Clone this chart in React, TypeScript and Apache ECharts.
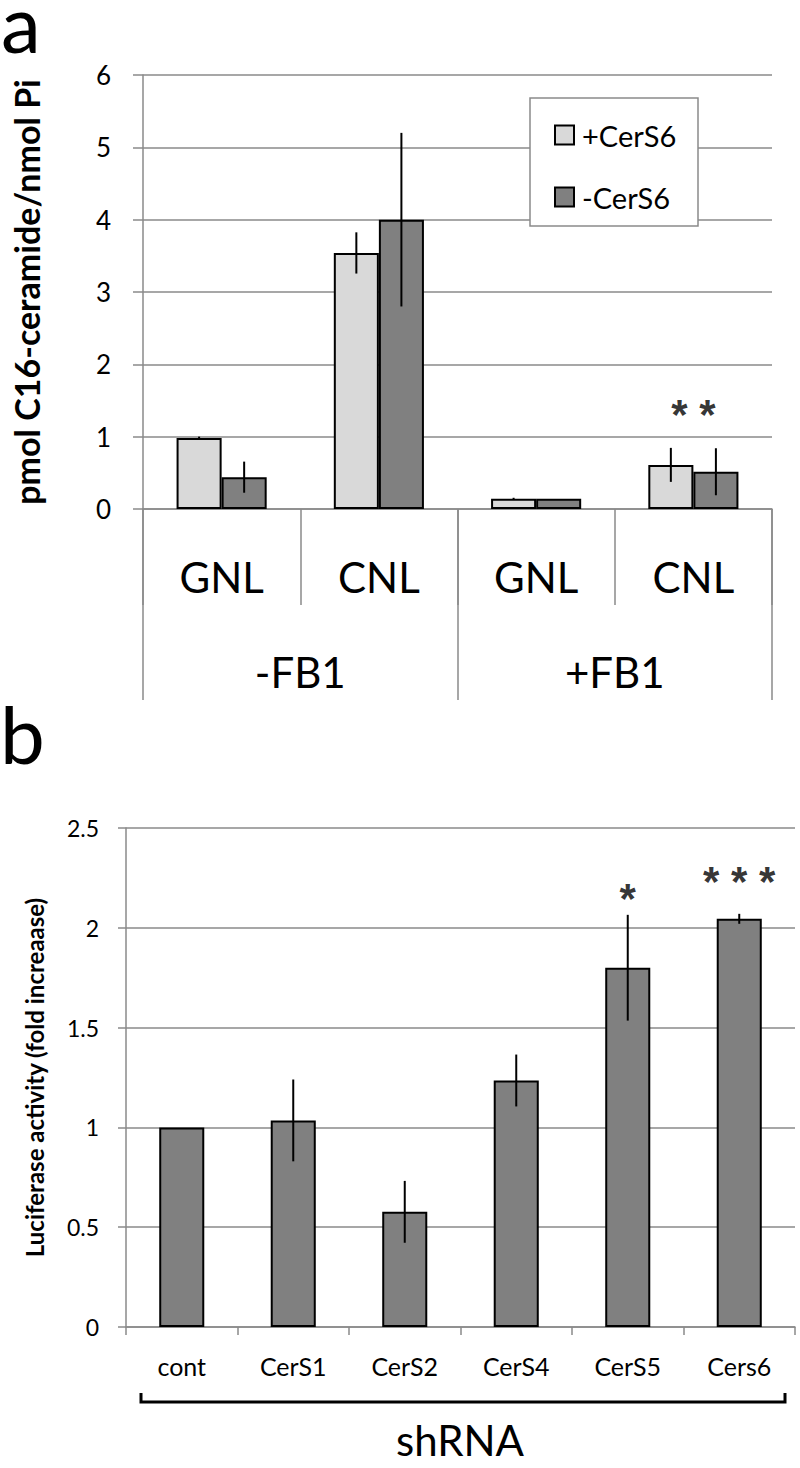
import React, { useEffect, useRef } from "react";
import * as echarts from "echarts";

// Panel a data
const catsA = ["GNL", "CNL", "GNL", "CNL"];
const groupsA = ["-FB1", "+FB1"];
const plusCerS6 = [0.98, 3.54, 0.14, 0.61];
const plusCerS6Err = [0.02, 0.285, 0.015, 0.235];
const minusCerS6 = [0.44, 4.0, 0.14, 0.515];
const minusCerS6Err = [0.215, 1.2, 0.0, 0.325];
const yTicksA = { min: 0, max: 6, interval: 1 };
const starsA = [{ cat: 3, value: 1.41, text: "* *" }];

// Panel b data
const catsB = ["cont", "CerS1", "CerS2", "CerS4", "CerS5", "Cers6"];
const lucValues = [1.0, 1.035, 0.577, 1.235, 1.8, 2.045];
const lucErr = [0, 0.205, 0.155, 0.13, 0.265, 0.025];
const yTicksB = { min: 0, max: 2.5, interval: 0.5 };
const starsB = [
  { cat: 4, value: 2.18, text: "*" },
  { cat: 5, value: 2.265, text: "* * *" },
];

const FONT = "Lato";
const GRID = "#8a8a8a";
const LIGHT = "#d9d9d9";
const DARK = "#808080";
const GAP_A = 0.427;
const GAP_B = 0.596;

export default function App() {
  const ref = useRef<HTMLDivElement>(null);
  useEffect(() => {
    document.body.style.margin = "0";
    const chart = echarts.init(ref.current!, null, { renderer: "svg" });

    const errA: any[] = [];
    plusCerS6.forEach((v, i) => errA.push([i, v, plusCerS6Err[i], 0]));
    minusCerS6.forEach((v, i) => errA.push([i, v, minusCerS6Err[i], 1]));
    const errB = lucValues.map((v, i) => [i, v, lucErr[i]]);

    const renderErrA = (params: any, api: any) => {
      const cat = api.value(0), m = api.value(1), e = api.value(2), s = api.value(3);
      if (!e) return null;
      const bandW = api.size([1, 0])[0];
      const barW = (bandW * (1 - GAP_A)) / 2;
      const x = api.coord([cat, m])[0] + (s === 0 ? -barW / 2 : barW / 2);
      const y1 = api.coord([cat, m + e])[1];
      const y2 = api.coord([cat, m - e])[1];
      return {
        type: "line",
        shape: { x1: x, y1, x2: x, y2 },
        style: { stroke: "#000", lineWidth: 2 },
      };
    };
    const renderErrB = (params: any, api: any) => {
      const cat = api.value(0), m = api.value(1), e = api.value(2);
      if (!e) return null;
      const x = api.coord([cat, m])[0];
      const y1 = api.coord([cat, m + e])[1];
      const y2 = api.coord([cat, m - e])[1];
      return {
        type: "line",
        shape: { x1: x, y1, x2: x, y2 },
        style: { stroke: "#000", lineWidth: 2 },
      };
    };

    const starLabel = {
      show: true,
      position: "inside",
      color: "#000",
      fontSize: 42,
      fontWeight: "bold",
      fontFamily: "Liberation Sans",
      offset: [0, 7],
    };

    chart.setOption({
      animation: false,
      backgroundColor: "#fff",
      textStyle: { fontFamily: FONT },
      grid: [
        { left: 143, top: 75, width: 629, height: 434 },
        { left: 126, top: 828, width: 669, height: 499 },
      ],
      legend: {
        data: ["+CerS6", "-CerS6"],
        orient: "vertical",
        left: 554,
        top: 120,
        padding: 0,
        itemWidth: 19,
        itemHeight: 19,
        itemGap: 32,
        icon: "rect",
        z: 10,
        textStyle: { fontSize: 29, fontFamily: FONT, color: "#000", lineHeight: 30, padding: [0, 0, 0, 3] },
      },
      xAxis: [
        {
          type: "category",
          gridIndex: 0,
          data: catsA,
          axisLine: { lineStyle: { color: GRID, width: 1.5 } },
          axisTick: { show: true, length: 96, lineStyle: { color: GRID, width: 1.5 } },
          axisLabel: { color: "#000", fontSize: 42, lineHeight: 42, margin: 47, fontFamily: FONT },
        },
        {
          type: "category",
          gridIndex: 0,
          position: "bottom",
          data: groupsA,
          axisLine: { show: false },
          axisTick: { show: true, length: 191, lineStyle: { color: GRID, width: 1.5 } },
          axisLabel: { color: "#000", fontSize: 42, lineHeight: 42, margin: 142, fontFamily: FONT },
        },
        {
          type: "category",
          gridIndex: 1,
          data: catsB,
          axisLine: { lineStyle: { color: GRID, width: 1.5 } },
          axisTick: { show: true, length: 8, lineStyle: { color: GRID, width: 1.5 } },
          axisLabel: { color: "#000", fontSize: 25, lineHeight: 25, margin: 26, fontFamily: FONT },
        },
      ],
      yAxis: [
        {
          type: "value",
          gridIndex: 0,
          ...yTicksA,
          name: "pmol C16-ceramide/nmol Pi",
          nameLocation: "middle",
          nameRotate: 90,
          nameGap: 100,
          nameTextStyle: { fontSize: 34, fontWeight: "bold", color: "#000", fontFamily: FONT },
          axisLine: { show: true, lineStyle: { color: GRID, width: 1.5 } },
          axisTick: { show: true, length: 10, lineStyle: { color: GRID, width: 1.5 } },
          splitLine: { lineStyle: { color: GRID, width: 1.5 } },
          axisLabel: { color: "#000", fontSize: 26, margin: 32, fontFamily: FONT },
        },
        {
          type: "value",
          gridIndex: 1,
          ...yTicksB,
          name: "Luciferase activity (fold increaase)",
          nameLocation: "middle",
          nameRotate: 90,
          nameGap: 80,
          nameTextStyle: { fontSize: 24, fontWeight: "bold", color: "#000", fontFamily: FONT },
          axisLine: { show: true, lineStyle: { color: GRID, width: 1.5 } },
          axisTick: { show: true, length: 8, lineStyle: { color: GRID, width: 1.5 } },
          splitLine: { lineStyle: { color: GRID, width: 1.5 } },
          axisLabel: { color: "#000", fontSize: 23, margin: 27, fontFamily: FONT },
        },
      ],
      series: [
        {
          name: "+CerS6",
          type: "bar",
          xAxisIndex: 0,
          yAxisIndex: 0,
          data: plusCerS6,
          barGap: "0%",
          barCategoryGap: GAP_A * 100 + "%",
          itemStyle: { color: LIGHT, borderColor: "#000", borderWidth: 2 },
        },
        {
          name: "-CerS6",
          type: "bar",
          xAxisIndex: 0,
          yAxisIndex: 0,
          data: minusCerS6,
          barGap: "0%",
          barCategoryGap: GAP_A * 100 + "%",
          itemStyle: { color: DARK, borderColor: "#000", borderWidth: 2 },
        },
        {
          type: "custom",
          xAxisIndex: 0,
          yAxisIndex: 0,
          renderItem: renderErrA,
          data: errA,
          encode: { x: 0, y: 1 },
          z: 5,
        },
        {
          type: "scatter",
          xAxisIndex: 0,
          yAxisIndex: 0,
          symbolSize: 0,
          data: starsA.map((s) => ({ value: [s.cat, s.value], label: { ...starLabel, formatter: s.text } })),
          z: 6,
        },
        {
          name: "Luciferase",
          type: "bar",
          xAxisIndex: 2,
          yAxisIndex: 1,
          data: lucValues,
          barCategoryGap: GAP_B * 100 + "%",
          itemStyle: { color: DARK, borderColor: "#000", borderWidth: 2 },
        },
        {
          type: "custom",
          xAxisIndex: 2,
          yAxisIndex: 1,
          renderItem: renderErrB,
          data: errB,
          encode: { x: 0, y: 1 },
          z: 5,
        },
        {
          type: "scatter",
          xAxisIndex: 2,
          yAxisIndex: 1,
          symbolSize: 0,
          data: starsB.map((s) => ({ value: [s.cat, s.value], label: { ...starLabel, formatter: s.text } })),
          z: 6,
        },
      ],
      graphic: [
        {
          type: "rect",
          shape: { x: 530, y: 98, width: 168, height: 128 },
          style: { fill: "#fff", stroke: GRID, lineWidth: 1.5 },
          z: 5,
        },
        {
          type: "text",
          x: 1,
          y: 22,
          style: { text: "a", fontSize: 80, lineHeight: 44, fontFamily: FONT, fill: "#000", textVerticalAlign: "middle" },
        },
        {
          type: "text",
          x: 0,
          y: 733,
          style: { text: "b", fontSize: 80, fontFamily: FONT, fill: "#000", textVerticalAlign: "middle" },
        },
        {
          type: "polyline",
          shape: { points: [[141, 1393], [141, 1402], [785, 1402], [785, 1393]] },
          style: { stroke: "#000", lineWidth: 3, fill: null },
        },
        {
          type: "text",
          x: 460,
          y: 1440,
          style: { text: "shRNA", fontSize: 42, fontFamily: FONT, fill: "#000", textAlign: "center", textVerticalAlign: "middle" },
        },
      ],
    });
    return () => chart.dispose();
  }, []);
  return <div ref={ref} style={{ width: 800, height: 1468 }} />;
}
